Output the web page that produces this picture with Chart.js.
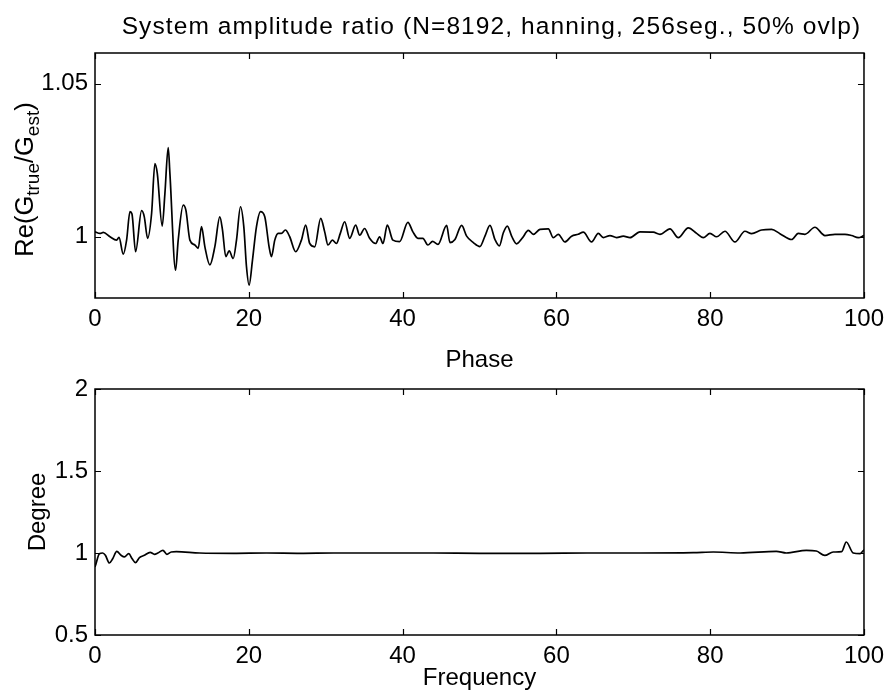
<!DOCTYPE html>
<html><head><meta charset="utf-8">
<script src="https://cdn.jsdelivr.net/npm/chart.js@4"></script>
<style>
html,body{margin:0;padding:0;background:#fff;}
#wrap{position:relative;width:891px;height:693px;background:#fff;overflow:hidden;}
canvas{position:absolute;left:0;}
</style></head><body>
<div id="wrap">
<canvas id="c1" width="891" height="345" style="top:0px"></canvas>
<canvas id="c2" width="891" height="348" style="top:345px"></canvas>
</div>
<script>
// ---- data ----
const ampFreq = [0,0.65,1.08,1.95,2.81,3.12,3.68,4.11,4.55,4.81,5.28,6.06,6.41,6.84,7.36,7.79,8.10,8.74,9.09,9.52,9.74,10.48,10.82,11.47,11.82,12.34,12.99,13.42,13.85,14.29,14.94,15.58,16.23,16.58,17.01,17.45,17.97,18.40,18.92,19.35,19.70,20.04,20.48,21.0,21.52,22.08,22.64,22.94,23.38,23.81,24.24,24.76,25.32,26.10,26.84,27.40,27.92,28.57,29.35,29.87,30.30,30.87,31.39,31.90,32.47,33.12,33.90,34.42,35.06,35.71,36.49,37.01,37.45,38.01,38.74,39.61,40.69,41.34,41.99,42.64,43.29,43.9,44.6,45.73,46.16,46.81,47.68,48.33,49.2,50.06,50.71,51.36,52.01,52.58,53.1,53.62,54.18,54.83,55.61,56.35,57.0,57.86,58.95,59.6,60.25,61.11,61.98,62.85,63.5,64.58,65.45,66.1,66.97,67.83,68.7,69.57,70.87,72.6,73.47,74.77,75.85,77.15,78.24,79.1,79.97,80.84,81.92,83.22,84.52,85.39,86.69,87.99,89.07,90.59,91.46,92.32,93.62,94.92,96.23,97.53,98.39,99.26,100];
const ampRatio = [1.0016,1.0011,1.0014,1.0000,0.9989,0.9998,0.9943,0.9989,1.0082,1.0074,0.9951,1.0085,1.0065,0.9995,1.0076,1.0239,1.0207,1.0035,1.0141,1.0291,1.0207,0.9891,0.9989,1.0103,1.0087,0.9989,0.9973,0.9962,1.0033,0.9967,0.9908,0.9967,1.0065,1.0022,0.9935,0.9954,0.9929,0.9989,1.0098,1.0033,0.9902,0.9842,0.9924,1.0033,1.0082,1.0065,0.9967,0.9935,0.9989,1.0011,1.0011,1.0022,1.0000,0.9951,0.9989,1.0038,0.9978,0.9967,1.0060,1.0016,0.9973,0.9989,0.9978,1.0011,1.0049,0.9995,1.0038,1.0005,1.0027,0.9995,0.9978,1.0000,0.9978,1.0038,0.9989,0.9984,1.0047,1.0016,0.9995,0.9995,0.9973,0.9985,0.9975,1.0037,0.9981,0.9991,1.0037,1.0002,0.9981,0.9968,1.0002,1.0037,0.9991,0.9970,1.0013,1.0035,1.0002,0.9977,0.9997,1.0021,1.0008,1.0024,1.0026,0.9997,1.0008,0.9983,1.0002,1.0008,1.0015,0.9983,1.0011,0.9997,1.0004,0.9997,1.0002,0.9997,1.0016,1.0015,1.0008,1.0026,0.9997,1.0029,1.0011,0.9997,1.0011,1.0000,1.0018,0.9983,1.0018,1.0010,1.0022,1.0024,1.0010,0.9991,1.0011,1.0008,1.0031,1.0004,1.0008,1.0008,1.0004,0.9997,1.0004];

const phaseFreq = [0,0.13,0.57,1.0,1.35,1.87,2.3,2.83,3.39,3.83,4.39,4.83,5.26,5.78,6.43,7.17,7.74,8.17,8.83,9.35,9.91,10.57,13.6,18,22.3,26.7,31,35.3,39.7,44,50,57.9,64,70.9,77.8,80.4,83.9,88.6,89.9,92.5,93.8,94.9,96.0,97.1,97.7,98.6,99.5,100];
const phaseDeg = [0.915,0.935,0.996,1.0,0.986,0.939,0.965,1.010,0.986,0.976,0.996,0.965,0.941,0.972,0.986,1.004,0.992,1.0,1.016,0.992,1.006,1.008,1.0,0.998,1.0,0.998,1.0,1.0,1.0,1.0,0.998,0.998,1.0,1.0,1.002,1.006,1.0,1.01,1.0,1.016,1.012,0.985,1.006,1.008,1.067,1.0,0.996,1.02];

const xTickValues = [0,20,40,60,80,100];
const ampTickValues = [1,1.05];
const phaseTickValues = [0.5,1,1.5,2];

const titleText = 'System amplitude ratio (N=8192, hanning, 256seg., 50% ovlp)';
const phaseTitle = 'Phase';
const xLabelText = 'Frequency';
const phaseYLabel = 'Degree';
const ampYLabelParts = [['Re(G',false],['true',true],['/G',false],['est',true],[')',false]];

// ---- styling ----
const FONT = '"Liberation Sans", Arial, Helvetica, sans-serif';
const TICK_PX = 24, LABEL_PX = 24, TITLE_PX = 24.5, YLAB_PX = 25.5, SUB_PX = 19;

function pts(xs, ys){ return xs.map((x,i)=>({x:x, y:ys[i]})); }

const framePlugin = {
  id:'frame',
  afterDatasetsDraw(chart){
    const {ctx, chartArea:a, scales} = chart;
    ctx.save();
    ctx.strokeStyle = '#000';
    ctx.lineWidth = 1.5;
    ctx.strokeRect(a.left, a.top, a.right-a.left, a.bottom-a.top);
    ctx.lineWidth = 1.2;
    const L = 6;
    scales.x.ticks.forEach(t=>{
      const px = Math.round(scales.x.getPixelForValue(t.value))+0.5;
      ctx.beginPath();
      ctx.moveTo(px, a.bottom); ctx.lineTo(px, a.bottom-L);
      ctx.moveTo(px, a.top); ctx.lineTo(px, a.top+L);
      ctx.stroke();
    });
    scales.y.ticks.forEach(t=>{
      const py = Math.round(scales.y.getPixelForValue(t.value))+0.5;
      ctx.beginPath();
      ctx.moveTo(a.left, py); ctx.lineTo(a.left+L, py);
      ctx.moveTo(a.right, py); ctx.lineTo(a.right-L, py);
      ctx.stroke();
    });
    ctx.restore();
  }
};

function makeChart(id, xs, ys, ymin, ymax, yTicks, padTop, xAxisH, textFn){
  const canvas = document.getElementById(id);
  return new Chart(canvas, {
    type:'line',
    data:{ datasets:[{ data: pts(xs, ys), borderColor:'#000', borderWidth:1.7, pointRadius:0, fill:false, cubicInterpolationMode:'monotone' }] },
    options:{
      responsive:false, animation:false, devicePixelRatio:1,
      layout:{ padding:{ top:padTop, right:27, left:0, bottom:0 } },
      plugins:{ legend:{display:false}, tooltip:{enabled:false}, title:{display:false} },
      scales:{
        x:{ type:'linear', min:0, max:100,
            afterBuildTicks(s){ s.ticks = xTickValues.map(v=>({value:v})); },
            afterFit(s){ s.height = xAxisH; },
            grid:{display:false, drawTicks:false}, border:{display:false},
            ticks:{ color:'#000', padding:7, maxRotation:0, autoSkip:false, font:{family:FONT, size:TICK_PX}, callback:v=>String(v) } },
        y:{ type:'linear', min:ymin, max:ymax,
            afterBuildTicks(s){ s.ticks = yTicks.map(v=>({value:v})); },
            afterFit(s){ s.width = 95; },
            grid:{display:false, drawTicks:false}, border:{display:false},
            ticks:{ color:'#000', padding:7, autoSkip:false, font:{family:FONT, size:TICK_PX}, callback:v=>String(v) } }
      }
    },
    plugins:[framePlugin, { id:'texts', afterDraw(chart){ textFn(chart); } }]
  });
}

function drawRotated(ctx, parts, cx, cy, mainPx, subPx){
  let total = 0;
  parts.forEach(p=>{ ctx.font = (p[1]?subPx:mainPx)+'px '+FONT; total += ctx.measureText(p[0]).width; });
  ctx.save();
  ctx.translate(cx, cy);
  ctx.rotate(-Math.PI/2);
  ctx.textBaseline = 'alphabetic';
  ctx.textAlign = 'left';
  ctx.fillStyle = '#000';
  let x = -total/2;
  parts.forEach(p=>{
    ctx.font = (p[1]?subPx:mainPx)+'px '+FONT;
    ctx.fillText(p[0], x, p[1]?6:0);
    x += ctx.measureText(p[0]).width;
  });
  ctx.restore();
}

makeChart('c1', ampFreq, ampRatio, 0.98, 1.06, ampTickValues, 53, 47, chart=>{
  const {ctx, chartArea:a} = chart;
  ctx.save();
  ctx.fillStyle = '#000';
  ctx.font = TITLE_PX+'px '+FONT;
  try { ctx.letterSpacing = '1.1px'; } catch(e) {}
  ctx.textAlign = 'center'; ctx.textBaseline = 'alphabetic';
  ctx.fillText(titleText, (a.left+a.right)/2 + 12, a.top-19);
  ctx.restore();
  drawRotated(ctx, ampYLabelParts, 33, (a.top+a.bottom)/2+4, YLAB_PX, SUB_PX);
});

makeChart('c2', phaseFreq, phaseDeg, 0.5, 2, phaseTickValues, 44, 58, chart=>{
  const {ctx, chartArea:a} = chart;
  ctx.save();
  ctx.fillStyle = '#000';
  ctx.font = LABEL_PX+'px '+FONT;
  ctx.textAlign = 'center'; ctx.textBaseline = 'alphabetic';
  ctx.fillText(phaseTitle, (a.left+a.right)/2, a.top-22);
  ctx.fillText(xLabelText, (a.left+a.right)/2, a.bottom+50);
  ctx.restore();
  drawRotated(ctx, [[phaseYLabel,false]], 45, (a.top+a.bottom)/2, LABEL_PX, SUB_PX);
});
</script>
</body></html>
